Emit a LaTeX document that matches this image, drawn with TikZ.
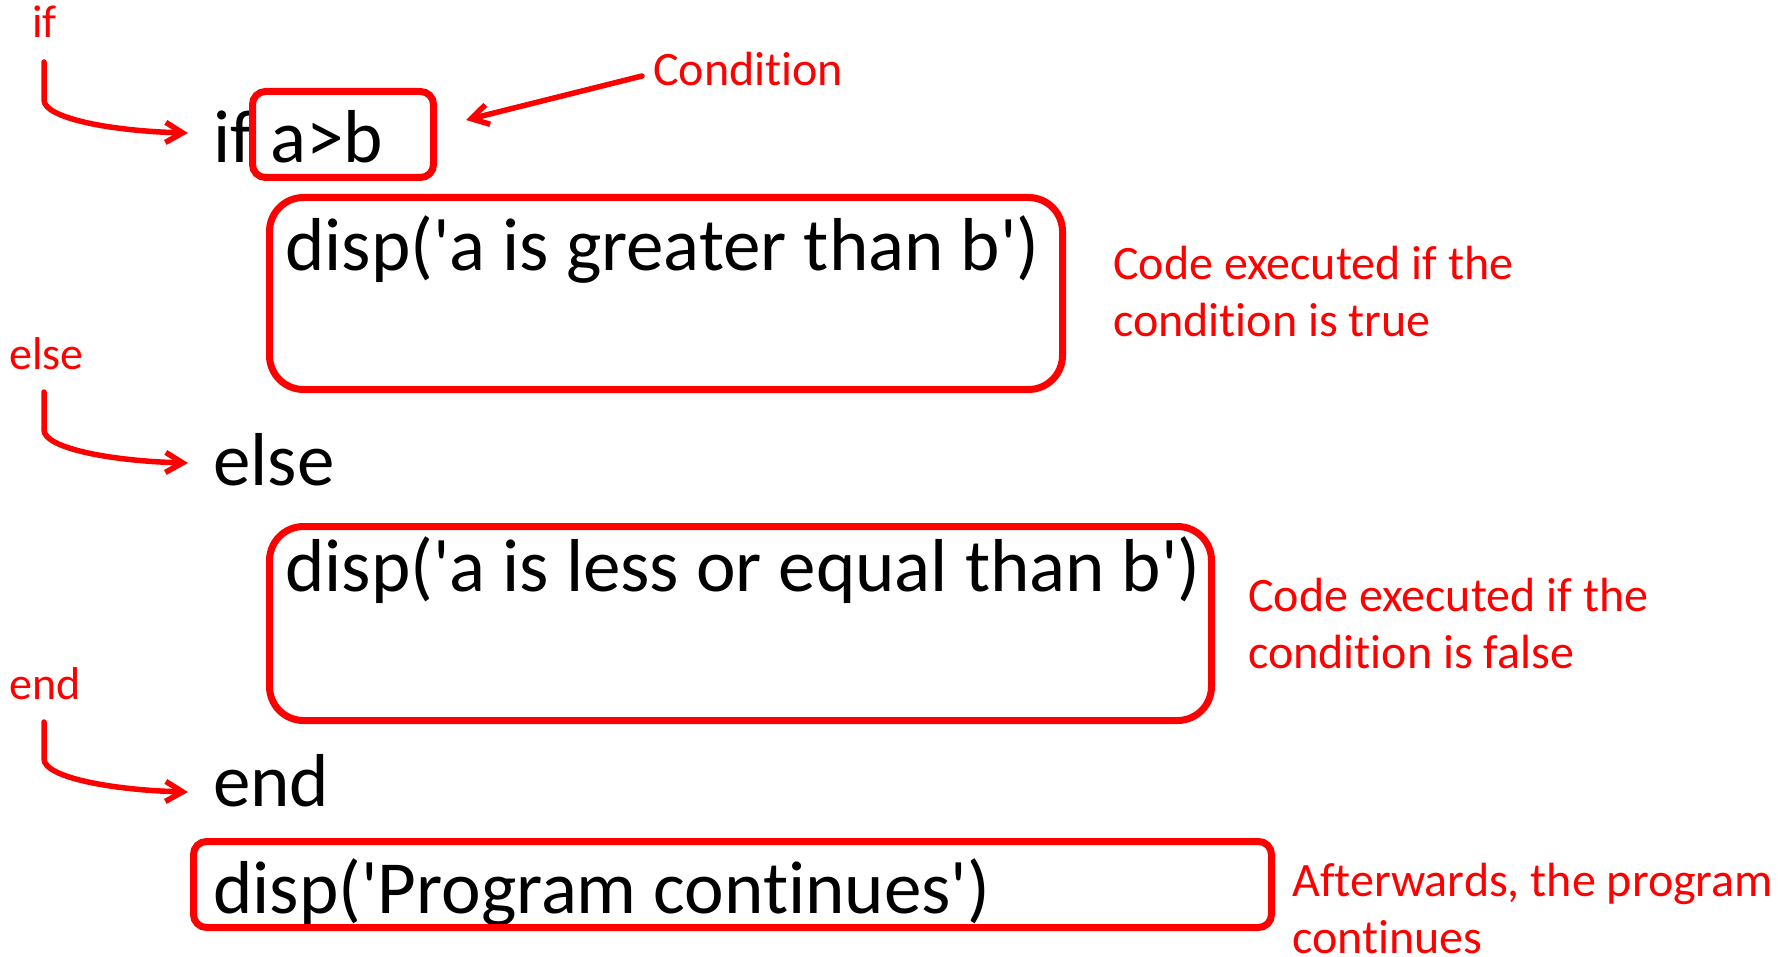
\documentclass[tikz,border=0pt]{standalone}
\usepackage{fontspec}
\setmainfont{Carlito}[Ligatures={NoCommon}]
\usetikzlibrary{arrows.meta}
\newcommand{\q}{\textquotesingle}
\begin{document}
\begin{tikzpicture}[x=1pt,y=-1pt,
  code/.style={anchor=base west, inner sep=0pt, text=black, font=\fontsize{75}{90}\selectfont},
  note/.style={anchor=base west, inner sep=0pt, text=red, align=left, font=\fontsize{48}{57}\selectfont},
  kw/.style={anchor=base west, inner sep=0pt, text=red, font=\fontsize{46}{55}\selectfont},
  frame/.style={draw=red, line width=7pt, rounded corners=#1, inner sep=0pt, anchor=north west},
  pointer/.style={draw=red, line width=5.5pt, line cap=round, line join=round,
    -{Straight Barb[length=17pt, width=20pt, line width=5.5pt]}}
]
\useasboundingbox (0,0) rectangle (1790,957);

% code lines
\node[code] (ifline) at (213,163) {if a>b};
\node[code] (then) at (285,271) {disp(\q a is greater than b\q)};
\node[code] (else) at (213,485) {else};
\node[code] (elsebody) at (285,591) {disp(\q a is less or equal than b\q)};
\node[code] (end) at (213,806) {end};
\node[code] (after) at (213,913) {disp(\q Program continues\q)};

% frames around the parts of the statement
\node[frame=13, minimum width=181, minimum height=86] (cond) at (249,88) {};
\node[frame=34, minimum width=793, minimum height=192] (thenbox) at (266,194) {};
\node[frame=34, minimum width=942, minimum height=194] (elsebox) at (266,523) {};
\node[frame=13, minimum width=1078, minimum height=86] (afterbox) at (190,838) {};

% keyword labels on the left
\node[kw] (kwif) at (32,38) {if};
\node[kw] (kwelse) at (9,369) {else};
\node[kw] (kwend) at (9,699) {end};

% explanations on the right (anchored at the baseline of the last line)
\node[red, anchor=base west, inner sep=0pt, font=\fontsize{48}{57}\selectfont] (condlbl) at (653,86) {Condition};
\node[note] (note1) at (1113,337) {Code executed if the\\condition is true};
\node[note] (note2) at (1248,668) {Code executed if the\\condition is false};
\node[note] (note3) at (1292,953) {Afterwards, the program\\continues};

% pointers
\coordinate (condtail) at (642,76);
\coordinate (condtip) at (466,120);
\draw[pointer] (condtail) -- (condtip);

\coordinate (iftail) at (44,62);
\coordinate (iftip) at (188,133);
\draw[pointer] (iftail) -- (44,100) .. controls (44,118) and (110,131) .. (iftip);
\coordinate (elsetail) at (44,392);
\coordinate (elsetip) at (188,463);
\draw[pointer] (elsetail) -- (44,430) .. controls (44,448) and (110,461) .. (elsetip);
\coordinate (endtail) at (44,722);
\coordinate (endtip) at (188,792);
\draw[pointer] (endtail) -- (44,759) .. controls (44,777) and (110,790) .. (endtip);
\end{tikzpicture}
\end{document}
